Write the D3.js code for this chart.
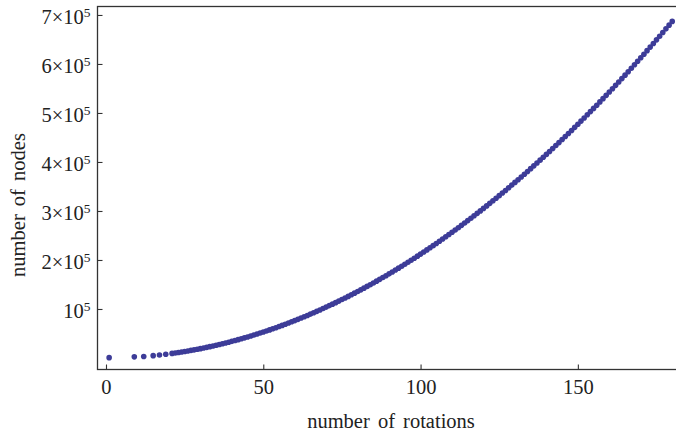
<!DOCTYPE html>
<html>
<head>
<meta charset="utf-8">
<script src="https://cdn.jsdelivr.net/npm/d3@7"></script>
<style>
  body { margin: 0; background: #fff; }
  svg text { font-family: "Liberation Serif", "Times New Roman", serif; fill: #222; }
</style>
</head>
<body>
<svg id="svg" width="676" height="434"></svg>
<script>
// number of rotations (x) and number of nodes (y)
const rotations = [1, 9, 12, 15, 17, 19,
  21, 22, 23, 24, 25, 26, 27, 28, 29, 30, 31, 32, 33, 34, 35, 36, 37, 38, 39, 40,
  41, 42, 43, 44, 45, 46, 47, 48, 49, 50, 51, 52, 53, 54, 55, 56, 57, 58, 59, 60,
  61, 62, 63, 64, 65, 66, 67, 68, 69, 70, 71, 72, 73, 74, 75, 76, 77, 78, 79, 80,
  81, 82, 83, 84, 85, 86, 87, 88, 89, 90, 91, 92, 93, 94, 95, 96, 97, 98, 99, 100,
  101, 102, 103, 104, 105, 106, 107, 108, 109, 110, 111, 112, 113, 114, 115, 116, 117, 118, 119, 120,
  121, 122, 123, 124, 125, 126, 127, 128, 129, 130, 131, 132, 133, 134, 135, 136, 137, 138, 139, 140,
  141, 142, 143, 144, 145, 146, 147, 148, 149, 150, 151, 152, 153, 154, 155, 156, 157, 158, 159, 160,
  161, 162, 163, 164, 165, 166, 167, 168, 169, 170, 171, 172, 173, 174, 175, 176, 177, 178, 179, 180];

const nodes = [700, 2300, 3050, 4770, 6130, 7650,
  9350, 10260, 11210, 12210, 13250, 14330, 15450, 16620, 17830, 19080, 20370, 21710, 23090, 24510, 25970, 27480, 29020, 30610, 32250, 33920,
  35640, 37400, 39200, 41040, 42930, 44860, 46830, 48840, 50900, 53000, 55140, 57320, 59550, 61820, 64130, 66480, 68880, 71320, 73800, 76320,
  78890, 81490, 84140, 86840, 89570, 92350, 95170, 98030, 100930, 103880, 106870, 109900, 112970, 116090, 119250, 122450, 125690, 128980, 132310, 135680,
  139090, 142550, 146050, 149590, 153170, 156800, 160460, 164170, 167930, 171720, 175560, 179440, 183360, 187320, 191330, 195380, 199470, 203600, 207780, 212000,
  216260, 220560, 224910, 229300, 233730, 238200, 242720, 247280, 251880, 256520, 261210, 265930, 270700, 275520, 280370, 285270, 290210, 295190, 300210, 305280,
  310390, 315540, 320730, 325970, 331250, 336570, 341930, 347340, 352790, 358280, 363810, 369390, 375010, 380670, 386370, 392120, 397900, 403730, 409610, 415520,
  421480, 427480, 433520, 439600, 445730, 451900, 458110, 464360, 470660, 477000, 483380, 489800, 496270, 502780, 509330, 515920, 522560, 529240, 535960, 542720,
  549530, 556370, 563260, 570200, 577170, 584190, 591250, 598350, 605490, 612680, 619910, 627180, 634490, 641850, 649250, 656690, 664170, 671700, 679270, 686880];

const xTicks = [0, 50, 100, 150];
const yTicks = [100000, 200000, 300000, 400000, 500000, 600000, 700000];
const yTickMant = ["", "2", "3", "4", "5", "6", "7"];

const serif = "'Liberation Serif', 'Times New Roman', serif";
const fs = 20.5;
const svg = d3.select("#svg");
const margin = {top: 6.5, right: 0, bottom: 64.5, left: 97.5};
const W = +svg.attr("width"), H = +svg.attr("height");

const x = d3.scaleLinear().domain([-2.7, 181.2]).range([margin.left, W - margin.right]);
const y = d3.scaleLinear().domain([-23500, 717300]).range([H - margin.bottom, margin.top]);

// frame
svg.append("rect")
  .attr("x", margin.left).attr("y", margin.top)
  .attr("width", W - margin.left + 2).attr("height", H - margin.bottom - margin.top)
  .attr("fill", "none").attr("stroke", "#333").attr("stroke-width", 1.3);

// bottom axis (ticks pointing inward)
const xAxis = svg.append("g")
  .attr("transform", `translate(0,${H - margin.bottom})`)
  .call(d3.axisBottom(x).tickValues(xTicks).tickSize(-5).tickPadding(10).tickFormat(d3.format("d")));
xAxis.attr("font-family", serif).attr("font-size", fs);
xAxis.select(".domain").remove();
xAxis.selectAll("line").attr("stroke", "#333").attr("stroke-width", 1.1);
xAxis.selectAll("text").attr("fill", "#222").attr("y", 24).attr("dy", null);

// left axis
const yAxis = svg.append("g")
  .attr("transform", `translate(${margin.left},0)`)
  .call(d3.axisLeft(y).tickValues(yTicks).tickSize(-5).tickFormat(""));
yAxis.select(".domain").remove();
yAxis.selectAll("line").attr("stroke", "#333").attr("stroke-width", 1.1);

const yl = svg.append("g")
  .attr("font-family", serif)
  .selectAll("text")
  .data(yTicks)
  .join("text")
  .attr("x", margin.left - 7)
  .attr("y", d => y(d) + 9)
  .attr("text-anchor", "end")
  .attr("font-size", fs);
yl.each(function(d, i) {
  const t = d3.select(this);
  const m = yTickMant[i];
  t.append("tspan").text(m ? m + "\u00d710" : "10");
  t.append("tspan").attr("font-size", 13.5).attr("dy", -7).text("5");
});

// points
svg.append("g").selectAll("circle")
  .data(rotations.map((r, i) => [r, nodes[i]]))
  .join("circle")
  .attr("cx", d => x(d[0]))
  .attr("cy", d => y(d[1]))
  .attr("r", 2.8)
  .attr("fill", "#3d3c98");

// axis labels
svg.append("text")
  .attr("x", 391).attr("y", 428)
  .attr("text-anchor", "middle")
  .attr("font-family", serif)
  .attr("font-size", fs)
  .style("word-spacing", "3px")
  .text("number of rotations");

svg.append("text")
  .attr("transform", "translate(25,205) rotate(-90)")
  .attr("text-anchor", "middle")
  .attr("font-family", serif)
  .attr("font-size", fs)
  .style("word-spacing", "3px")
  .text("number of nodes");
</script>
</body>
</html>
